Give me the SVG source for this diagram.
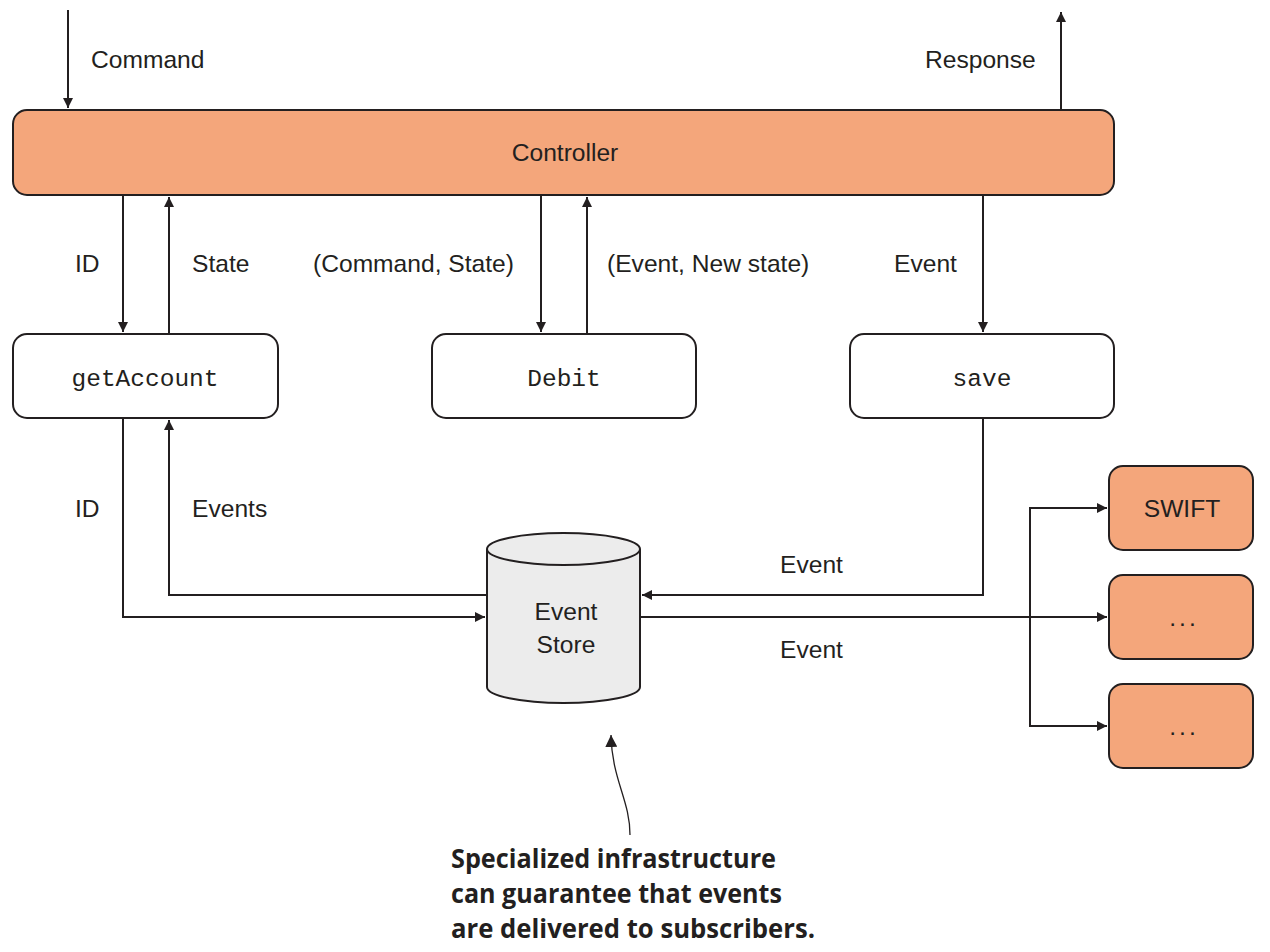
<svg xmlns="http://www.w3.org/2000/svg" width="1270" height="952" viewBox="0 0 1270 952">
<style>
.box{stroke:#231f20;stroke-width:2}
.hot{fill:#f4a67b}
.plain{fill:#ffffff}
.t{font-family:"Liberation Sans",Arial,sans-serif;font-size:24.6px;fill:#231f20}
.m{font-family:"Liberation Mono","Courier New",monospace;font-size:24.5px;fill:#231f20}
.c{text-anchor:middle}
.dots{letter-spacing:3px}
.ln{fill:none;stroke:#231f20;stroke-width:2}
.note{font-family:"Open Sans","Liberation Sans",sans-serif;font-weight:bold;font-size:27px;fill:#231f20}
</style>
<defs>
<marker id="ah" viewBox="0 0 10 10" refX="10" refY="5" markerWidth="11" markerHeight="10" markerUnits="userSpaceOnUse" orient="auto">
<path d="M0,0 L10,5 L0,10 z" fill="#231f20"/>
</marker>
<marker id="ah2" viewBox="0 0 10 10" refX="10" refY="5" markerWidth="12" markerHeight="12" markerUnits="userSpaceOnUse" orient="auto">
<path d="M0,0 L10,5 L0,10 z" fill="#231f20"/>
</marker>
</defs>

<g id="connectors">
<path class="ln" d="M68,10 V108" marker-end="url(#ah)"/>
<path class="ln" d="M1061,110 V12" marker-end="url(#ah)"/>
<path class="ln" d="M123,195 V332" marker-end="url(#ah)"/>
<path class="ln" d="M169,334 V197" marker-end="url(#ah)"/>
<path class="ln" d="M541,195 V332" marker-end="url(#ah)"/>
<path class="ln" d="M587,334 V197" marker-end="url(#ah)"/>
<path class="ln" d="M983,195 V332" marker-end="url(#ah)"/>
<path class="ln" d="M123,418 V617 H485" marker-end="url(#ah)"/>
<path class="ln" d="M487,595 H169 V420" marker-end="url(#ah)"/>
<path class="ln" d="M983,418 V595 H642" marker-end="url(#ah)"/>
<path class="ln" d="M640,617 H1107" marker-end="url(#ah)"/>
<path class="ln" d="M1030,508 V726"/>
<path class="ln" d="M1029,508 H1107" marker-end="url(#ah)"/>
<path class="ln" d="M1029,726 H1107" marker-end="url(#ah)"/>
<path class="ln" style="stroke-width:1.3" d="M630,835 C630,800 612,780 611,735" marker-end="url(#ah2)"/>
<text class="t" x="91" y="68">Command</text>
<text class="t" x="925" y="68">Response</text>
<text class="t" x="75" y="272">ID</text>
<text class="t" x="192" y="272">State</text>
<text class="t" x="313" y="272">(Command, State)</text>
<text class="t" x="607" y="272">(Event, New state)</text>
<text class="t" x="894" y="272">Event</text>
<text class="t" x="75" y="517">ID</text>
<text class="t" x="192" y="517">Events</text>
<text class="t" x="780" y="573">Event</text>
<text class="t" x="780" y="658">Event</text>
</g>

<g id="controller">
<rect class="box hot" x="13" y="110" width="1101" height="85" rx="14"/>
<text class="t c" x="565" y="161">Controller</text>
</g>
<g id="getAccount">
<rect class="box plain" x="13" y="334" width="265" height="84" rx="14"/>
<text class="m c" x="145" y="386">getAccount</text>
</g>
<g id="debit">
<rect class="box plain" x="432" y="334" width="264" height="84" rx="14"/>
<text class="m c" x="564" y="386">Debit</text>
</g>
<g id="save">
<rect class="box plain" x="850" y="334" width="264" height="84" rx="14"/>
<text class="m c" x="982" y="386">save</text>
</g>
<g id="eventStore">
<path class="box" fill="#ececec" d="M487,549 V687 A76.5,16 0 0 0 640,687 V549"/>
<ellipse class="box" fill="#ececec" cx="563.5" cy="549" rx="76.5" ry="16"/>
<text class="t c" x="566" y="620">Event</text>
<text class="t c" x="566" y="653">Store</text>
</g>
<g id="swift">
<rect class="box hot" x="1109" y="466" width="144" height="84" rx="14"/>
<text class="t c" x="1182" y="517">SWIFT</text>
</g>
<g id="sub2">
<rect class="box hot" x="1109" y="575" width="144" height="84" rx="14"/>
<text class="t c dots" x="1184" y="626">...</text>
</g>
<g id="sub3">
<rect class="box hot" x="1109" y="684" width="144" height="84" rx="14"/>
<text class="t c dots" x="1184" y="735">...</text>
</g>
<g id="note">
<text class="note" x="451" y="868" textLength="325" lengthAdjust="spacingAndGlyphs">Specialized infrastructure</text>
<text class="note" x="451" y="903" textLength="331" lengthAdjust="spacingAndGlyphs">can guarantee that events</text>
<text class="note" x="451" y="938" textLength="364" lengthAdjust="spacingAndGlyphs">are delivered to subscribers.</text>
</g>
</svg>
